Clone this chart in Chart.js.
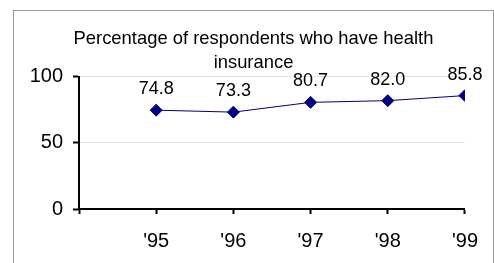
<!DOCTYPE html>
<html>
<head>
<meta charset="utf-8">
<script src="https://cdn.jsdelivr.net/npm/chart.js@4/dist/chart.umd.min.js"></script>
<style>
  body { margin: 0; background: #fff; }
  #frame { position: absolute; left: 13px; top: 10px; width: 479px; height: 260px; border: 1px solid #9a9a9a; }
</style>
</head>
<body>
<div id="frame"><canvas id="chart"></canvas></div>
<script>
var years = [95, 96, 97, 98, 99];
var insured = [74.8, 73.3, 80.7, 82.0, 85.8];
var titleLines = ['Percentage of respondents who have health', 'insurance'];

var navy = '#000080';
var font = 'Arial, "Liberation Sans", sans-serif';

// value labels above each diamond
var pointLabels = {
  id: 'pointLabels',
  afterDatasetsDraw: function (chart) {
    var c = chart.ctx;
    var meta = chart.getDatasetMeta(0);
    c.save();
    c.font = '18px ' + font;
    c.fillStyle = '#000';
    c.textAlign = 'center';
    c.textBaseline = 'middle';
    meta.data.forEach(function (pt, i) {
      c.fillText(insured[i].toFixed(1), pt.x, pt.y - 21);
    });
    c.restore();
  }
};

var ctx = document.querySelector('#chart').getContext('2d');
var chart = new Chart(ctx, {
  type: 'line',
  data: {
    datasets: [{
      data: years.map(function (y, i) { return { x: y, y: insured[i] }; }),
      borderColor: navy,
      borderWidth: 1,
      pointStyle: 'rectRot',
      pointRadius: 6,
      pointBackgroundColor: navy,
      pointBorderColor: navy,
      pointBorderWidth: 1
    }]
  },
  options: {
    responsive: true,
    maintainAspectRatio: false,
    animation: false,
    layout: { padding: { left: 0, right: 0, top: 0, bottom: 3 } },
    plugins: {
      legend: { display: false },
      tooltip: { enabled: false },
      title: {
        display: true,
        text: titleLines,
        color: '#000',
        font: { family: font, size: 18.4, weight: 'normal', lineHeight: 1.3 },
        padding: { top: 16, bottom: 2 }
      }
    },
    scales: {
      x: {
        type: 'linear',
        min: 94,
        max: 99,
        grid: { drawOnChartArea: false, tickLength: 5, tickWidth: 2, tickColor: '#000' },
        border: { color: '#000', width: 2 },
        ticks: {
          stepSize: 1,
          padding: 15,
          color: '#000',
          font: { family: font, size: 20 },
          maxRotation: 0,
          callback: function (v) { return v < 95 ? '' : "'" + v; }
        }
      },
      y: {
        min: 0,
        max: 100,
        afterFit: function (scale) { scale.width = 65; },
        grid: { color: '#e4e4e4', tickLength: 6, tickWidth: 2, tickColor: '#000' },
        border: { color: '#000', width: 2 },
        ticks: {
          stepSize: 50,
          padding: 10,
          color: '#000',
          font: { family: font, size: 20 }
        }
      },
      // empty right-hand space, keeps the title centred on the frame
      yRight: {
        position: 'right',
        grid: { display: false },
        border: { display: false },
        ticks: { display: false },
        afterFit: function (scale) { scale.width = 27; }
      }
    }
  },
  plugins: [pointLabels]
});
</script>
</body>
</html>
